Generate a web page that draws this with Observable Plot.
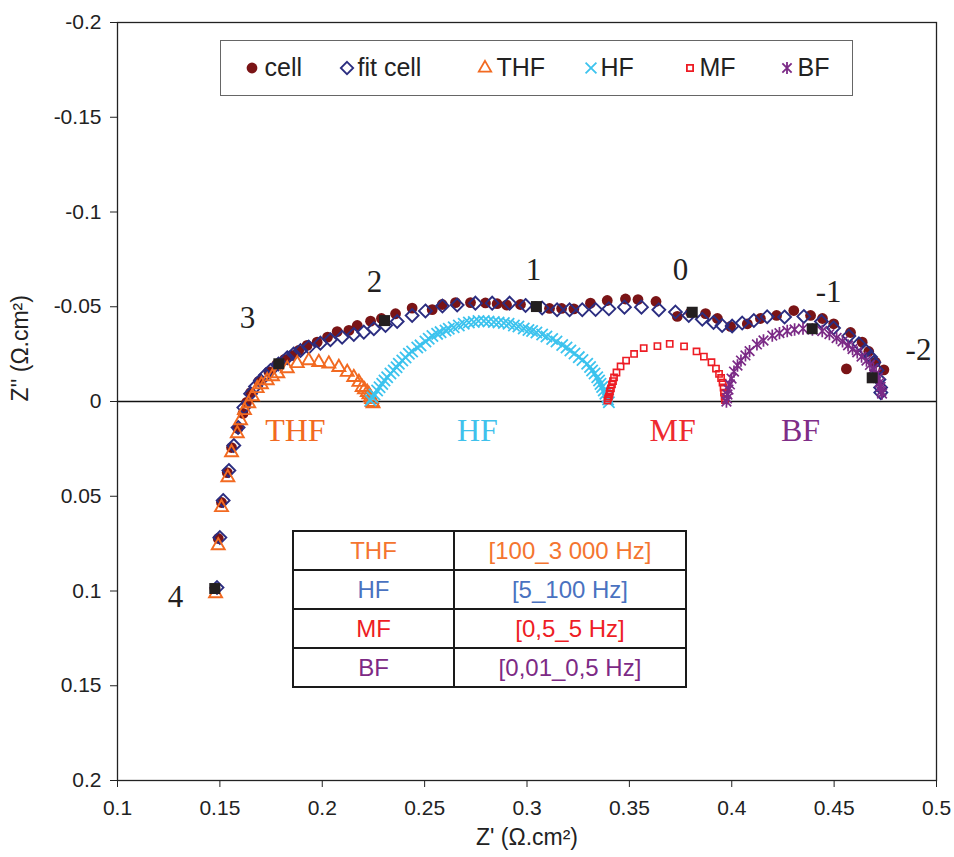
<!DOCTYPE html>
<html><head><meta charset="utf-8">
<script src="https://cdn.jsdelivr.net/npm/d3@7"></script>
<script src="https://cdn.jsdelivr.net/npm/@observablehq/plot@0.6"></script>
<style>
body{margin:0;background:#fff;}
#wrap{position:relative;width:954px;height:857px;font-family:"Liberation Sans",Arial,sans-serif;}
#legend{position:absolute;left:220px;top:40px;width:633px;height:56px;border:1.5px solid #666;box-sizing:border-box;background:#fff;}
.li{position:absolute;top:0;height:53px;line-height:53px;font-size:25px;color:#222;white-space:nowrap;}
#tbl{position:absolute;left:292px;top:530px;width:395px;height:155px;border-collapse:collapse;font-size:24px;background:#fff;}
#tbl td{border:2px solid #1a1a1a;text-align:center;padding:0;height:37px;}
</style></head>
<body><div id="wrap"><div id="chart"></div><div id="legend"></div><table id="tbl"></table></div>
<script>
// ---- data ----
const cellX = [0.1476,0.1492,0.1508,0.1536,0.1557,0.1588,0.1613,0.1630,0.1650,0.1690,0.1739,0.1777,0.1816,0.1850,0.1885,0.1926,0.1975,0.2026,0.2073,0.2130,0.2171,0.2236,0.2289,0.2358,0.2439,0.2537,0.2586,0.2651,0.2724,0.2797,0.2854,0.2900,0.2968,0.3042,0.3110,0.3169,0.3229,0.3310,0.3392,0.3481,0.3542,0.3630,0.3734,0.3799,0.3872,0.3930,0.3994,0.4076,0.4140,0.4219,0.4303,0.4385,0.4443,0.4498,0.4560,0.4580,0.4637,0.4669,0.4702,0.4743];
const cellY = [0.0987,0.0723,0.0533,0.0375,0.0243,0.0142,0.0063,0.0005,-0.0047,-0.0106,-0.0158,-0.0195,-0.0222,-0.0243,-0.0269,-0.0296,-0.0313,-0.0340,-0.0369,-0.0375,-0.0401,-0.0424,-0.0438,-0.0463,-0.0493,-0.0485,-0.0512,-0.0522,-0.0522,-0.0520,-0.0516,-0.0509,-0.0512,-0.0501,-0.0491,-0.0491,-0.0489,-0.0519,-0.0533,-0.0541,-0.0538,-0.0528,-0.0449,-0.0470,-0.0464,-0.0438,-0.0396,-0.0410,-0.0438,-0.0454,-0.0480,-0.0454,-0.0438,-0.0410,-0.0172,-0.0364,-0.0313,-0.0264,-0.0207,-0.0167];

const fitX = [0.1486,0.1500,0.1516,0.1544,0.1568,0.1589,0.1617,0.1650,0.1674,0.1698,0.1723,0.1747,0.1786,0.1829,0.1860,0.1894,0.1934,0.1991,0.2040,0.2097,0.2154,0.2203,0.2252,0.2309,0.2366,0.2439,0.2504,0.2587,0.2659,0.2748,0.2830,0.2915,0.2993,0.3074,0.3147,0.3208,0.3270,0.3335,0.3400,0.3476,0.3559,0.3644,0.3725,0.3790,0.3856,0.3911,0.3953,0.4002,0.4051,0.4108,0.4173,0.4258,0.4352,0.4438,0.4497,0.4572,0.4621,0.4656,0.4678,0.4694,0.4710,0.4719,0.4727,0.4728];
const fitY = [0.0982,0.0718,0.0522,0.0364,0.0232,0.0137,0.0032,-0.0041,-0.0079,-0.0111,-0.0140,-0.0164,-0.0198,-0.0231,-0.0251,-0.0269,-0.0287,-0.0308,-0.0326,-0.0339,-0.0354,-0.0366,-0.0384,-0.0401,-0.0422,-0.0454,-0.0478,-0.0504,-0.0509,-0.0519,-0.0519,-0.0519,-0.0507,-0.0493,-0.0484,-0.0484,-0.0484,-0.0485,-0.0489,-0.0498,-0.0498,-0.0484,-0.0472,-0.0454,-0.0434,-0.0417,-0.0401,-0.0398,-0.0414,-0.0427,-0.0447,-0.0446,-0.0449,-0.0422,-0.0388,-0.0346,-0.0304,-0.0266,-0.0235,-0.0207,-0.0164,-0.0116,-0.0074,-0.0047];

const thfX = [0.1479,0.1492,0.1508,0.1539,0.1557,0.1585,0.1601,0.1620,0.1641,0.1659,0.1682,0.1703,0.1731,0.1757,0.1783,0.1829,0.1878,0.1934,0.1983,0.2032,0.2081,0.2122,0.2154,0.2179,0.2195,0.2206,0.2220,0.2228,0.2236,0.2241,0.2244,0.2248];
const thfY = [0.1013,0.0760,0.0559,0.0401,0.0269,0.0169,0.0100,0.0047,0.0011,-0.0026,-0.0069,-0.0090,-0.0111,-0.0132,-0.0148,-0.0174,-0.0201,-0.0216,-0.0207,-0.0199,-0.0181,-0.0155,-0.0128,-0.0102,-0.0075,-0.0063,-0.0049,-0.0037,-0.0023,-0.0011,0.0004,0.0011];

const hfX = [0.2236,0.2245,0.2255,0.2268,0.2280,0.2293,0.2304,0.2317,0.2333,0.2349,0.2363,0.2374,0.2391,0.2407,0.2423,0.2439,0.2464,0.2480,0.2504,0.2520,0.2538,0.2561,0.2578,0.2602,0.2618,0.2642,0.2667,0.2691,0.2716,0.2740,0.2763,0.2789,0.2812,0.2838,0.2861,0.2887,0.2910,0.2936,0.2958,0.2984,0.3007,0.3025,0.3046,0.3074,0.3095,0.3123,0.3144,0.3172,0.3193,0.3212,0.3232,0.3253,0.3271,0.3294,0.3308,0.3318,0.3330,0.3343,0.3352,0.3359,0.3367,0.3375,0.3383,0.3392,0.3396,0.3400];
const hfY = [-0.0005,-0.0021,-0.0037,-0.0058,-0.0075,-0.0093,-0.0111,-0.0128,-0.0148,-0.0164,-0.0181,-0.0199,-0.0216,-0.0232,-0.0252,-0.0264,-0.0285,-0.0296,-0.0317,-0.0331,-0.0346,-0.0357,-0.0366,-0.0375,-0.0384,-0.0392,-0.0401,-0.0410,-0.0417,-0.0420,-0.0425,-0.0425,-0.0422,-0.0420,-0.0417,-0.0414,-0.0410,-0.0401,-0.0396,-0.0385,-0.0377,-0.0372,-0.0364,-0.0354,-0.0343,-0.0330,-0.0317,-0.0298,-0.0285,-0.0269,-0.0253,-0.0234,-0.0219,-0.0199,-0.0182,-0.0164,-0.0148,-0.0128,-0.0111,-0.0093,-0.0077,-0.0058,-0.0041,-0.0023,-0.0011,0.0004];

const mfX = [0.3393,0.3396,0.3400,0.3403,0.3405,0.3410,0.3415,0.3420,0.3425,0.3437,0.3457,0.3484,0.3523,0.3570,0.3637,0.3697,0.3767,0.3828,0.3864,0.3901,0.3923,0.3938,0.3948,0.3955,0.3960,0.3962,0.3965,0.3967];
const mfY = [-0.0005,-0.0016,-0.0026,-0.0040,-0.0053,-0.0069,-0.0090,-0.0108,-0.0127,-0.0153,-0.0185,-0.0216,-0.0251,-0.0282,-0.0292,-0.0304,-0.0291,-0.0264,-0.0237,-0.0207,-0.0174,-0.0146,-0.0124,-0.0100,-0.0074,-0.0047,-0.0026,-0.0008];

const bfX = [0.3974,0.3977,0.3979,0.3984,0.3991,0.3999,0.4011,0.4028,0.4045,0.4067,0.4087,0.4123,0.4155,0.4198,0.4233,0.4271,0.4307,0.4348,0.4394,0.4442,0.4477,0.4512,0.4541,0.4568,0.4590,0.4613,0.4634,0.4658,0.4675,0.4692,0.4705,0.4714,0.4722,0.4727,0.4730,0.4734];
const bfY = [0.0000,-0.0016,-0.0037,-0.0063,-0.0090,-0.0121,-0.0158,-0.0190,-0.0216,-0.0243,-0.0266,-0.0301,-0.0322,-0.0348,-0.0361,-0.0372,-0.0380,-0.0385,-0.0380,-0.0372,-0.0356,-0.0335,-0.0317,-0.0296,-0.0277,-0.0259,-0.0237,-0.0216,-0.0193,-0.0172,-0.0148,-0.0124,-0.0100,-0.0077,-0.0055,-0.0042];

// frequency decade markers (log f)
const decX = [0.1475,0.1788,0.2304,0.3046,0.3807,0.4393,0.4686];
const decY = [0.0987,-0.0199,-0.0427,-0.0501,-0.0471,-0.0384,-0.0125];
const decLabels = ["4","3","2","1","0","-1","-2"];
const decLabelX = [0.1283,0.1635,0.2255,0.3032,0.3750,0.4473,0.4912];
const decLabelY = [0.1034,-0.0438,-0.0628,-0.0691,-0.0691,-0.0575,-0.0269];

const regionNames = ["THF","HF","MF","BF"];
const regionX = [0.1869,0.2758,0.3711,0.4336];
const regionY = [0.0153,0.0153,0.0153,0.0153];
const freqRanges = ["[100_3 000 Hz]","[5_100 Hz]","[0,5_5 Hz]","[0,01_0,5 Hz]"];

const xTicks = [0.1,0.15,0.2,0.25,0.3,0.35,0.4,0.45,0.5];
const yTicks = [-0.2,-0.15,-0.1,-0.05,0,0.05,0.1,0.15,0.2];
const xTitle = "Z' (Ω.cm²)";
const yTitle = "Z'' (Ω.cm²)";

// ---- styles ----
const C = {cell:"#7a1416", fit:"#2b2d80", thf:"#f26a21", hf:"#3cc3ee", mf:"#ed1c24", bf:"#7b2a86", dec:"#231f20"};
const regionColors = [C.thf, "#3fc1ec", "#ee2a2f", "#7f2d87"];
const tableColors = ["#f47530", "#4a72c0", "#ee1d25", "#7d2a85"];
const serif = '"Liberation Serif","Times New Roman",serif';
const sans = '"Liberation Sans",Arial,sans-serif';

const zip = (xs, ys) => xs.map((x, i) => ({x, y: ys[i]}));
const star = {draw(ctx, size){ const r = Math.sqrt(size)*0.62, d = r*0.78;
  ctx.moveTo(0,-r); ctx.lineTo(0,r); ctx.moveTo(-d,-d); ctx.lineTo(d,d); ctx.moveTo(-d,d); ctx.lineTo(d,-d); }};
const fmt = d => String(Math.round(d*100)/100);

const regions = regionNames.map((t,i)=>({t, x: regionX[i], y: regionY[i], c: regionColors[i]}));
const decLab = decLabels.map((t,i)=>({t, x: decLabelX[i], y: decLabelY[i]}));

const plot = Plot.plot({
  width: 954, height: 857,
  marginLeft: 117, marginRight: 18, marginTop: 22, marginBottom: 77,
  style: {fontFamily: sans, fontSize: "21px", color: "#222", background: "white", overflow: "visible"},
  x: {domain: [0.1, 0.5]},
  y: {domain: [-0.2, 0.2], reverse: true},
  color: {type: "identity"},
  marks: [
    Plot.axisX(xTicks, {tickSize: 7, tickPadding: 13, tickFormat: fmt, fontSize: 21, label: null}),
    Plot.axisY(yTicks, {tickSize: 7, tickPadding: 9, tickFormat: fmt, fontSize: 21, label: null}),
    Plot.ruleY([0], {stroke: "#111", strokeWidth: 1.6}),
    Plot.dot(zip(cellX, cellY), {x: "x", y: "y", r: 5.4, fill: C.cell, stroke: "none"}),
    Plot.dot(zip(fitX, fitY), {x: "x", y: "y", r: 5.8, symbol: "diamond2", fill: "white", fillOpacity: 0, stroke: C.fit, strokeWidth: 1.9}),
    Plot.dot(zip(thfX, thfY), {x: "x", y: "y", r: 4.8, symbol: "triangle", fill: "none", stroke: C.thf, strokeWidth: 1.9}),
    Plot.dot(zip(hfX, hfY), {x: "x", y: "y", r: 5.2, symbol: "times", fill: "none", stroke: C.hf, strokeWidth: 1.8}),
    Plot.dot(zip(mfX, mfY), {x: "x", y: "y", r: 3.5, symbol: "square", fill: "none", stroke: C.mf, strokeWidth: 1.6}),
    Plot.dot(zip(bfX, bfY), {x: "x", y: "y", r: 5.6, symbol: star, fill: "none", stroke: C.bf, strokeWidth: 1.7}),
    Plot.dot(zip(decX, decY), {x: "x", y: "y", r: 6.2, symbol: "square", fill: C.dec, stroke: "none"}),
    Plot.text(regions, {x: "x", y: "y", text: "t", fill: "c", fontSize: 32, fontFamily: serif}),
    Plot.text(decLab, {x: "x", y: "y", text: "t", fill: C.dec, fontSize: 31, fontFamily: serif}),
    Plot.text([xTitle], {frameAnchor: "bottom", dy: 64, text: d => d, fontSize: 23, fill: "#222"}),
    Plot.text([yTitle], {frameAnchor: "left", dx: -97, rotate: -90, text: d => d, fontSize: 23, fill: "#222"}),
    Plot.frame({stroke: "#222", strokeWidth: 1.3})
  ]
});
document.getElementById("chart").appendChild(plot);

// ---- legend ----
const legendItems = [
  {label: "cell", sym: d3.symbolCircle, r: 5.4, fill: C.cell, stroke: "none", cx: 252, tx: 265},
  {label: "fit cell", sym: d3.symbolDiamond2, r: 5.6, fill: "none", stroke: C.fit, cx: 347, tx: 358},
  {label: "THF", sym: d3.symbolTriangle, r: 4.6, fill: "none", stroke: C.thf, cx: 485, tx: 497},
  {label: "HF", sym: d3.symbolTimes, r: 5, fill: "none", stroke: C.hf, cx: 591, tx: 601},
  {label: "MF", sym: d3.symbolSquare, r: 3.5, fill: "none", stroke: C.mf, cx: 690, tx: 700},
  {label: "BF", sym: star, r: 5.4, fill: "none", stroke: C.bf, cx: 787, tx: 798}
];
const leg = d3.select("#legend");
legendItems.forEach(it => {
  const s = leg.append("svg").attr("width", 24).attr("height", 24)
    .style("position", "absolute").style("left", (it.cx - 221.5 - 12) + "px").style("top", (28 - 1.5 - 12) + "px");
  s.append("path").attr("transform", "translate(12,12)")
    .attr("d", d3.symbol(it.sym, Math.PI * it.r * it.r)())
    .attr("fill", it.fill).attr("stroke", it.stroke).attr("stroke-width", 1.8);
  leg.append("div").attr("class", "li").style("left", (it.tx - 221.5) + "px").text(it.label);
});

// ---- frequency table ----
const tbl = d3.select("#tbl");
regionNames.forEach((n, i) => {
  const tr = tbl.append("tr");
  tr.append("td").style("width", "159px").style("color", tableColors[i]).text(n);
  tr.append("td").style("color", tableColors[i]).text(freqRanges[i]);
});
</script>
</body></html>
